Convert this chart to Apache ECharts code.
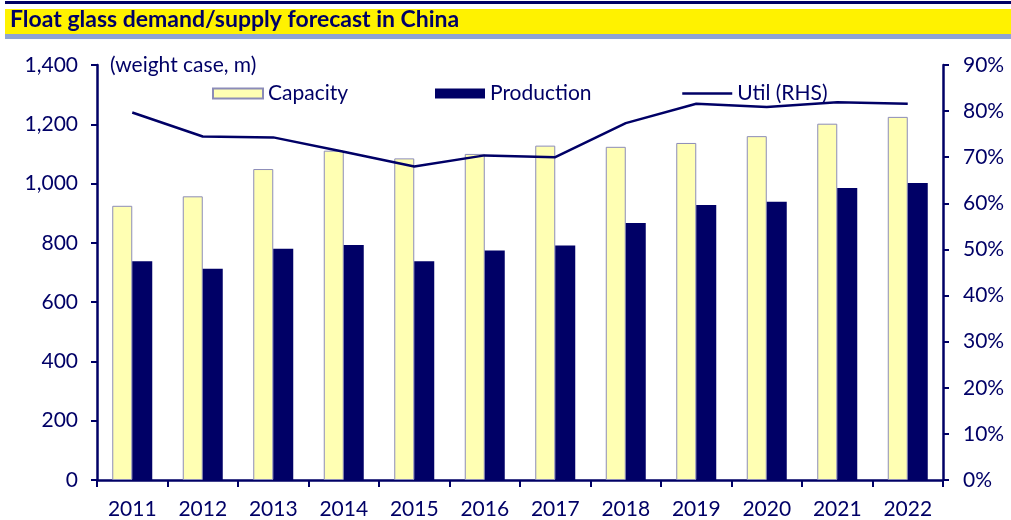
<!DOCTYPE html>
<html>
<head>
<meta charset="utf-8">
<script src="https://cdn.jsdelivr.net/npm/echarts@6/dist/echarts.min.js"></script>
<style>
  html, body { margin: 0; padding: 0; background: #fff; }
  #chart { width: 1011px; height: 520px; }
</style>
</head>
<body>
<div id="chart"></div>
<script>
  // data
  var years = ['2011', '2012', '2013', '2014', '2015', '2016', '2017', '2018', '2019', '2020', '2021', '2022'];
  var capacity = [925, 957, 1049, 1111, 1085, 1100, 1128, 1124, 1137, 1160, 1202, 1225];
  var production = [738, 713, 780, 793, 738, 774, 791, 867, 928, 939, 985, 1002];
  var util = [0.797, 0.745, 0.743, 0.712, 0.680, 0.704, 0.700, 0.774, 0.816, 0.809, 0.819, 0.816];

  var navy = '#000066';
  var font = 'Lato';
  var fs = 21;

  // one legend per series so each sits where the reference has it
  function legendAt(left, name, extra) {
    var l = {
      left: left, top: 83, padding: 0,
      itemWidth: 50, itemHeight: 10, itemGap: 0,
      textStyle: { fontFamily: font, fontSize: fs, color: navy },
      data: [name]
    };
    for (var k in extra) l[k] = extra[k];
    return l;
  }

  var chart = echarts.init(document.getElementById('chart'));
  chart.setOption({
    animation: false,
    textStyle: { fontFamily: font, color: navy },
    graphic: [
      // title band
      { type: 'rect', shape: { x: 5, y: 1, width: 1006, height: 3 }, style: { fill: navy } },
      { type: 'rect', shape: { x: 5, y: 9, width: 1006, height: 25 }, style: { fill: '#FFF200' } },
      { type: 'rect', shape: { x: 5, y: 34, width: 1006, height: 5 }, style: { fill: '#8EA3D6' } },
      {
        type: 'text', left: 10, top: 8,
        style: { text: 'Float glass demand/supply forecast in China', fill: navy, font: 'bold 23px Lato' }
      },
      {
        type: 'text', left: 110, top: 55,
        style: { text: '(weight case, m)', fill: navy, font: '21px Lato' }
      }
    ],
    legend: [
      legendAt(212, 'Capacity', { icon: 'rect' }),
      legendAt(435, 'Production', { icon: 'rect' }),
      legendAt(681, 'Util (RHS)', { itemStyle: { opacity: 0 }, lineStyle: { width: 2.5 } })
    ],
    grid: { left: 97, right: 68, top: 65, bottom: 39 },
    xAxis: {
      type: 'category',
      data: years,
      axisLine: { lineStyle: { color: navy, width: 2.5 } },
      axisTick: { show: true, length: 7, lineStyle: { color: navy, width: 2 } },
      axisLabel: { color: navy, fontFamily: font, fontSize: fs, margin: 19 }
    },
    yAxis: [
      {
        type: 'value', min: 0, max: 1400, interval: 200,
        axisLine: { show: true, lineStyle: { color: navy, width: 2.5 } },
        axisTick: { show: true, length: 6, lineStyle: { color: navy, width: 2 } },
        splitLine: { show: false },
        axisLabel: {
          color: navy, fontFamily: font, fontSize: fs, margin: 19,
          formatter: function (v) { return v.toLocaleString('en-US'); }
        }
      },
      {
        type: 'value', min: 0, max: 0.9, interval: 0.1,
        position: 'right',
        axisLine: { show: true, lineStyle: { color: navy, width: 2.5 } },
        axisTick: { show: true, length: 6, lineStyle: { color: navy, width: 2 } },
        splitLine: { show: false },
        axisLabel: {
          color: navy, fontFamily: font, fontSize: fs, margin: 20,
          formatter: function (v) { return Math.round(v * 100) + '%'; }
        }
      }
    ],
    series: [
      {
        name: 'Capacity', type: 'bar', data: capacity,
        barWidth: 20, barGap: '0%',
        itemStyle: { color: '#FFFFB3', borderColor: '#8C8CB8', borderWidth: 1 }
      },
      {
        name: 'Production', type: 'bar', data: production,
        barWidth: 20,
        itemStyle: { color: navy }
      },
      {
        name: 'Util (RHS)', type: 'line', yAxisIndex: 1, data: util,
        symbol: 'none',
        lineStyle: { color: navy, width: 2.5 },
        itemStyle: { color: navy }
      }
    ]
  });
</script>
</body>
</html>
